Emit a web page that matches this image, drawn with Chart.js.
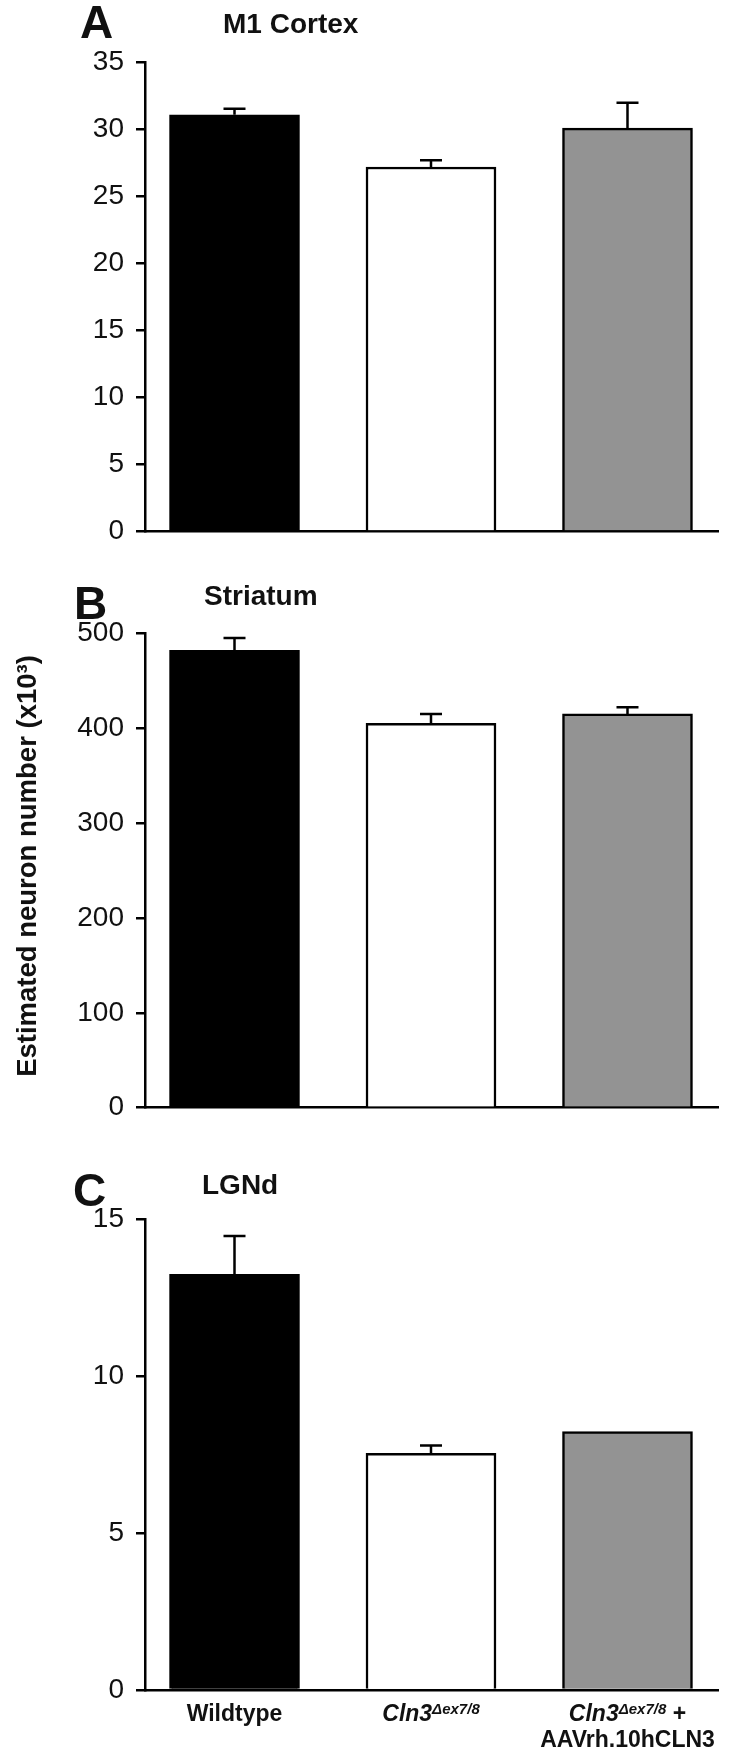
<!DOCTYPE html>
<html><head><meta charset="utf-8">
<script src="https://cdn.jsdelivr.net/npm/chart.js@4.4.1/dist/chart.umd.min.js"></script>
<style>
html,body{margin:0;padding:0;background:#fff;}
#wrap{position:relative;width:750px;height:1754px;overflow:hidden;font-family:"Liberation Sans",Arial,sans-serif;color:#111;}
canvas{position:absolute;left:0;}
.lab{position:absolute;font-weight:bold;white-space:nowrap;line-height:1;}
.letter{font-size:46px;}
.ttl{font-size:28px;}
#ytitle{position:absolute;left:-273px;top:852px;width:600px;height:28px;font-size:27.5px;font-weight:bold;line-height:1;text-align:center;white-space:nowrap;transform:rotate(-90deg);transform-origin:50% 50%;}
</style></head><body>
<div id="wrap">
<canvas id="cA" width="750" height="580" style="top:0px"></canvas>
<canvas id="cB" width="750" height="560" style="top:580px"></canvas>
<canvas id="cC" width="750" height="614" style="top:1140px"></canvas>
<div class="lab letter" style="left:80px;top:-1px">A</div>
<div class="lab ttl" style="left:223px;top:10px">M1 Cortex</div>
<div class="lab letter" style="left:74px;top:580px">B</div>
<div class="lab ttl" style="left:204px;top:582px">Striatum</div>
<div class="lab letter" style="left:73px;top:1167px">C</div>
<div class="lab ttl" style="left:202px;top:1171px">LGNd</div>
<div id="ytitle">Estimated neuron number (x10³)</div>
</div>
<script>
// ---- data ----
const categories = ["Wildtype", "Cln3Δex7/8", "Cln3Δex7/8 + AAVrh.10hCLN3"];
const barColors = ["#000000", "#ffffff", "#939393"];
const m1Means = [31.1, 27.2, 30.1];
const m1Errors = [0.45, 0.5, 1.9];
const m1Ticks = [0, 5, 10, 15, 20, 25, 30, 35];
const striatumMeans = [482, 405, 415];
const striatumErrors = [13, 10, 7];
const striatumTicks = [0, 100, 200, 300, 400, 500];
const lgndMeans = [13.24, 7.54, 8.23];
const lgndErrors = [1.22, 0.25, 0];
const lgndTicks = [0, 5, 10, 15];
// rich label segments for the x categories (italic gene name, superscript allele)
const categoryLabelLines = [
  [[{t: "Wildtype"}]],
  [[{t: "Cln3", it: true}, {t: "Δex7/8", it: true, sup: true}]],
  [[{t: "Cln3", it: true}, {t: "Δex7/8", it: true, sup: true}, {t: " +"}], [{t: "AAVrh.10hCLN3"}]]
];

Chart.defaults.font.family = '"Liberation Sans", Arial, sans-serif';
Chart.defaults.color = '#111';

const errorBarPlugin = {
  id: 'errbars',
  afterDatasetsDraw(chart) {
    const ds = chart.data.datasets[0];
    const meta = chart.getDatasetMeta(0);
    const ys = chart.scales.y;
    const ctx = chart.ctx;
    ctx.save();
    ctx.strokeStyle = '#000';
    ctx.lineWidth = 2.5;
    meta.data.forEach((bar, i) => {
      const e = ds.errors[i];
      if (!e) return;
      const top = ys.getPixelForValue(ds.means[i] + e);
      ctx.beginPath();
      ctx.moveTo(bar.x, bar.y);
      ctx.lineTo(bar.x, top);
      ctx.moveTo(bar.x - 11, top);
      ctx.lineTo(bar.x + 11, top);
      ctx.stroke();
    });
    ctx.restore();
  }
};

const xLabelPlugin = {
  id: 'xlabels',
  afterDraw(chart) {
    if (!chart.options.plugins.xlabels || !chart.options.plugins.xlabels.show) return;
    const xs = chart.scales.x;
    const ctx = chart.ctx;
    const bottom = chart.chartArea.bottom;
    const fam = '"Liberation Sans", Arial, sans-serif';
    const fontOf = s => s.sup ? ('italic bold 15px ' + fam) : ((s.it ? 'italic ' : '') + 'bold 23px ' + fam);
    ctx.save();
    ctx.fillStyle = '#111';
    ctx.textBaseline = 'alphabetic';
    ctx.textAlign = 'left';
    categoryLabelLines.forEach((lines, i) => {
      const cx = xs.getPixelForValue(i);
      lines.forEach((segs, li) => {
        const base = bottom + 31 + li * 26;
        let total = 0;
        const widths = segs.map(s => { ctx.font = fontOf(s); const w = ctx.measureText(s.t).width; total += w; return w; });
        let x = cx - total / 2;
        segs.forEach((s, k) => {
          ctx.font = fontOf(s);
          ctx.fillText(s.t, x, s.sup ? base - 7 : base);
          x += widths[k];
        });
      });
    });
    ctx.restore();
  }
};

function makePanel(id, means, errors, ticks, padTop, padBottom, showLabels) {
  return new Chart(document.getElementById(id), {
    type: 'bar',
    data: {
      datasets: [{
        data: categories.map((c, i) => ({x: i, y: means[i]})),
        means: means,
        errors: errors,
        backgroundColor: barColors,
        borderColor: '#000',
        borderWidth: 2.5,
        barThickness: 130
      }]
    },
    options: {
      responsive: false,
      animation: false,
      events: [],
      layout: {padding: {top: padTop, bottom: padBottom, left: 0, right: 31}},
      plugins: {legend: {display: false}, tooltip: {enabled: false}, title: {display: false}, xlabels: {show: showLabels}},
      scales: {
        x: {
          type: 'linear',
          offset: false,
          min: -0.4555,
          max: 2.4657,
          afterBuildTicks: s => { s.ticks = categories.map((c, i) => ({value: i})); },
          afterFit: s => { s.height = 0; },
          ticks: {display: false},
          grid: {display: false, lineWidth: 0, offset: false},
          border: {display: true, color: '#000', width: 2.5}
        },
        y: {
          min: ticks[0],
          max: ticks[ticks.length - 1],
          afterBuildTicks: s => { s.ticks = ticks.map(v => ({value: v})); },
          afterFit: s => { s.width = 145; },
          ticks: {font: {size: 28}, color: '#111', padding: 12},
          grid: {display: true, drawOnChartArea: false, drawTicks: true, tickLength: 9, tickWidth: 2.5, tickColor: '#000', color: '#000', lineWidth: 2.5},
          border: {display: true, color: '#000', width: 2.5}
        }
      }
    },
    plugins: [errorBarPlugin, xLabelPlugin]
  });
}

makePanel('cA', m1Means, m1Errors, m1Ticks, 62.5, 48.5, false);
makePanel('cB', striatumMeans, striatumErrors, striatumTicks, 53.3, 32.3, false);
makePanel('cC', lgndMeans, lgndErrors, lgndTicks, 79, 64, true);
</script>
</body></html>
